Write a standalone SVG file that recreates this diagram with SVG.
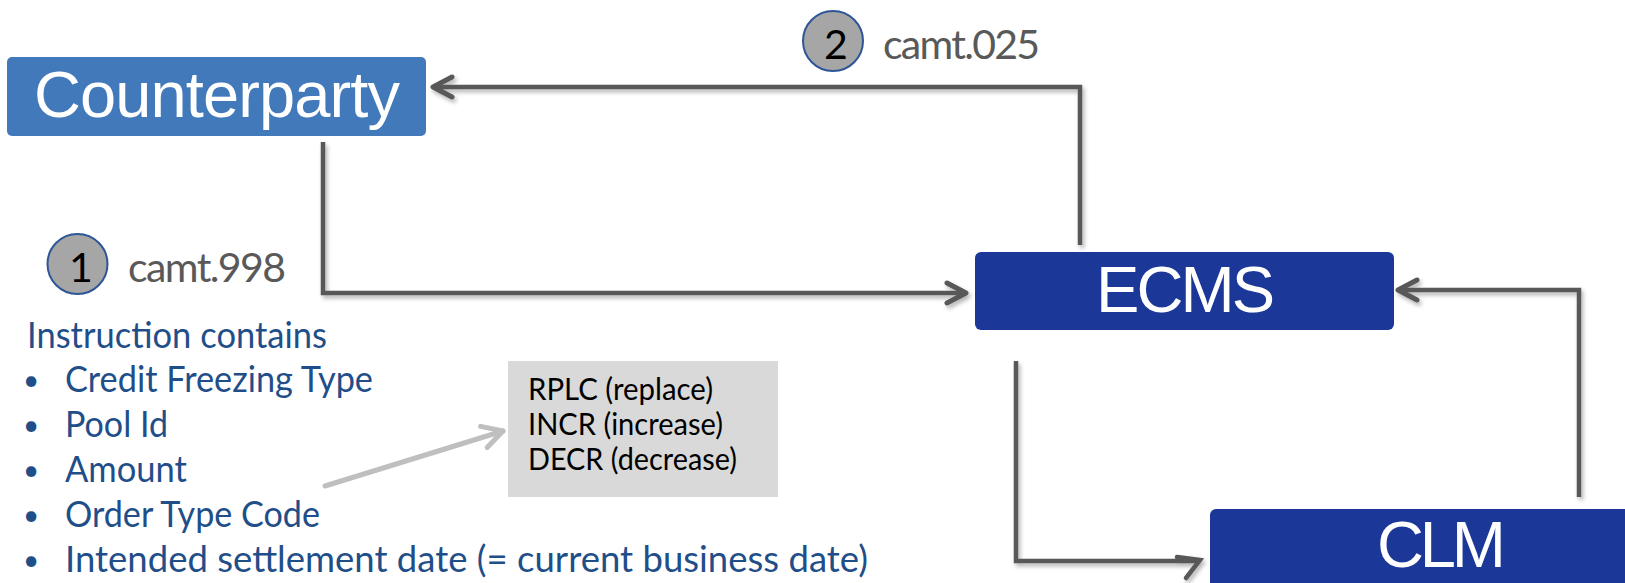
<svg xmlns="http://www.w3.org/2000/svg" width="1625" height="583" viewBox="0 0 1625 583">
<style>
.box-text{font-family:"Liberation Sans",Arial,sans-serif;font-size:65px;fill:#ffffff}
.cal{font-family:Lato,"Open Sans",sans-serif}
.msg{font-size:41px;fill:#595959}
.num{font-size:41px;fill:#000000}
.list{font-size:36.5px;fill:#1F4E89}
.bul{font-size:28px;fill:#1F4E89}
.code{font-size:31px;fill:#000000}
.conn{fill:none;stroke:#595959;stroke-width:4.5;stroke-linejoin:miter}
.badge{fill:#A6A6A6;stroke:#2E5597;stroke-width:2}
</style>
<defs>
<filter id="sh" x="-10%" y="-10%" width="120%" height="130%">
<feDropShadow dx="2" dy="3" stdDeviation="2" flood-color="#000" flood-opacity="0.3"/>
</filter>
<marker id="chev" markerUnits="userSpaceOnUse" markerWidth="26" markerHeight="28" refX="22" refY="14" orient="auto" viewBox="0 0 26 28">
<path d="M3,4 L22,14 L3,24" fill="none" stroke="#595959" stroke-width="5" stroke-linecap="round" stroke-linejoin="round"/>
</marker>
<marker id="chevg" markerUnits="userSpaceOnUse" markerWidth="28" markerHeight="30" refX="23" refY="15" orient="auto" viewBox="0 0 28 30">
<path d="M3,4 L23,15 L3,26" fill="none" stroke="#BFBFBF" stroke-width="5" stroke-linecap="round" stroke-linejoin="round"/>
</marker>
</defs>
<rect width="1625" height="583" fill="#ffffff"/>

<g id="connectors">
<g filter="url(#sh)">
<path class="conn" d="M323,142 V293 H966" marker-end="url(#chev)"/>
<path class="conn" d="M1080,245 V87 H433" marker-end="url(#chev)"/>
<path class="conn" d="M1016,361 V561 H1199"/>
<polyline class="conn" points="1177,557 1200,560 1186,578" stroke-width="5" stroke-linecap="round" stroke-linejoin="round"/>
<path class="conn" d="M1579,497 V290 H1398" marker-end="url(#chev)"/>
</g>
<path d="M325,486 L503,431" fill="none" stroke="#BFBFBF" stroke-width="5" stroke-linecap="round" marker-end="url(#chevg)"/>
</g>

<g id="counterparty">
<rect x="7" y="57" width="419" height="79" rx="5" fill="#4279BA"/>
<text class="box-text" x="34" y="117" textLength="366">Counterparty</text>
</g>

<g id="ecms">
<rect x="975" y="252" width="419" height="78" rx="6" fill="#1B3798"/>
<text class="box-text" x="1096" y="312" textLength="179">ECMS</text>
</g>

<g id="clm">
<rect x="1210" y="509" width="425" height="90" rx="6" fill="#1B3798"/>
<text class="box-text" x="1377" y="567" textLength="129">CLM</text>
</g>

<g id="step2">
<circle class="badge" cx="833" cy="41" r="30"/>
<text class="cal num" x="836" y="59" text-anchor="middle">2</text>
<text class="cal msg" x="883" y="59" textLength="157">camt.025</text>
</g>

<g id="step1">
<circle class="badge" cx="77.5" cy="264" r="30"/>
<text class="cal num" x="81" y="282" text-anchor="middle">1</text>
<text class="cal msg" x="128" y="282" textLength="158">camt.998</text>
</g>

<g id="instruction">
<text class="cal list" x="27" y="348" textLength="300" lengthAdjust="spacingAndGlyphs">Instruction contains</text>
<text class="cal bul" x="31" y="390" text-anchor="middle">•</text>
<text class="cal list" x="65" y="392" textLength="308" lengthAdjust="spacingAndGlyphs">Credit Freezing Type</text>
<text class="cal bul" x="31" y="435" text-anchor="middle">•</text>
<text class="cal list" x="65" y="437" textLength="103" lengthAdjust="spacingAndGlyphs">Pool Id</text>
<text class="cal bul" x="31" y="480" text-anchor="middle">•</text>
<text class="cal list" x="65" y="482" textLength="122" lengthAdjust="spacingAndGlyphs">Amount</text>
<text class="cal bul" x="31" y="525" text-anchor="middle">•</text>
<text class="cal list" x="65" y="527" textLength="255" lengthAdjust="spacingAndGlyphs">Order Type Code</text>
<text class="cal bul" x="31" y="570" text-anchor="middle">•</text>
<text class="cal list" x="65" y="572" textLength="803" lengthAdjust="spacingAndGlyphs">Intended settlement date (= current business date)</text>
</g>

<g id="codes">
<rect x="508" y="361" width="270" height="136" fill="#D9D9D9"/>
<text class="cal code" x="528" y="400" textLength="185" lengthAdjust="spacingAndGlyphs">RPLC (replace)</text>
<text class="cal code" x="528" y="435" textLength="195" lengthAdjust="spacingAndGlyphs">INCR (increase)</text>
<text class="cal code" x="528" y="470" textLength="209" lengthAdjust="spacingAndGlyphs">DECR (decrease)</text>
</g>
</svg>
